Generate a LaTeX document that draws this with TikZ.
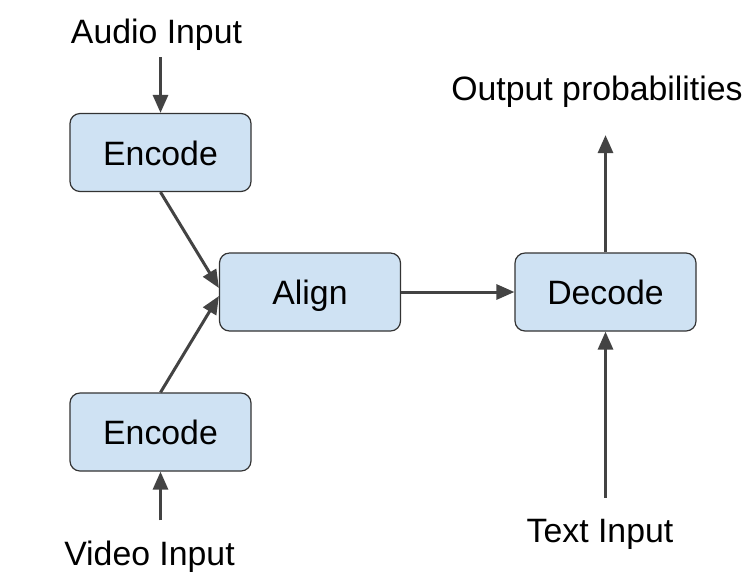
\documentclass[tikz,border=0pt]{standalone}
\usepackage{fontspec}
\setmainfont{Liberation Sans}
\usepackage{xcolor}
\usetikzlibrary{arrows.meta, positioning}
\definecolor{boxfill}{HTML}{CFE2F3}
\definecolor{arrgray}{HTML}{434343}

\begin{document}
\begin{tikzpicture}[
          x=0.5pt, y=-0.5pt,
          block/.style={draw=black!80, line width=0.6pt, rounded corners=5pt,
                        fill=boxfill, minimum width=90.5pt, minimum height=39pt,
                        text height=16pt, text depth=3.5pt,
                        font=\fontsize{16.9}{20}\selectfont},
          lbl/.style={font=\fontsize{16.9}{20}\selectfont, anchor=base},
          arr/.style={-{Triangle[length=9pt, width=7.5pt]}, line width=1.5pt, draw=arrgray}
        ]
          \useasboundingbox (0,0) rectangle (747,580);
          \node[block] (enc1)  at (160.5,152.5) {Encode};
          \node[block] (align) at (310,292)     {Align};
          \node[block] (dec)   at (605.5,292)   {Decode};
          \node[block] (enc2)  at (160.5,432)   {Encode};
          \node[lbl] (audio) at (156.5,43)  {Audio Input};
          \node[lbl] (video) at (149.5,565) {Video Input};
          \node[lbl] (text)  at (600,542)   {Text Input};
          \node[lbl] (out)   at (597,100)   {Output probabilities};
          \draw[arr] (audio.south -| enc1) -- (enc1);
          \draw[arr, shorten <=6.5pt] (video.north -| enc2) -- (enc2);
          \draw[arr] (enc1.south) -- ([yshift=2pt]align.west);
          \draw[arr] (enc2.north) -- ([yshift=-2pt]align.west);
          \draw[arr] (align) -- (dec);
          \draw[arr, shorten >=10.5pt] (dec) -- (dec |- out.south);
          \draw[arr, shorten <=7pt] (text.north -| dec) -- (dec);
        \end{tikzpicture}
\end{document}
